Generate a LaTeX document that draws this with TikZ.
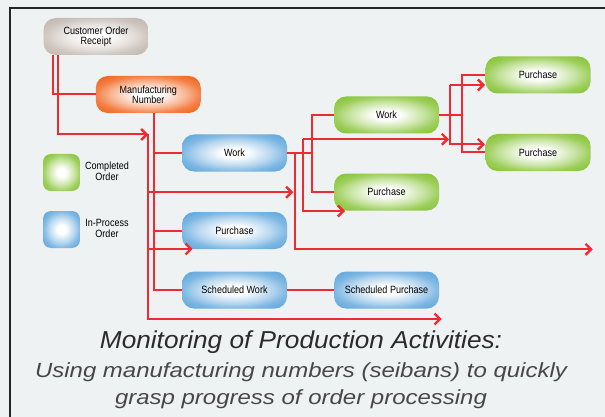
\documentclass[tikz,border=0pt]{standalone}
\usepackage{fontspec}
\usetikzlibrary{arrows.meta}
\newfontfamily\condfont[FakeStretch=0.86]{Liberation Sans}
\newfontfamily\titlefont[FakeStretch=1.07]{Liberation Sans}
\newfontfamily\subfont[FakeStretch=1.17]{Liberation Sans}
\definecolor{bgC}{HTML}{EEF2F3}
\definecolor{frameC}{HTML}{262626}
\definecolor{redC}{HTML}{EE2B33}
\definecolor{blueC}{HTML}{68ABDE}
\definecolor{greenC}{HTML}{8CC63F}
\definecolor{orangeC}{HTML}{F26A25}
\definecolor{beigeC}{HTML}{C5BBB3}
\definecolor{titleC}{HTML}{2B2B2B}
\definecolor{subC}{HTML}{474747}
\colorlet{blueM}{blueC!50!white}
\colorlet{greenM}{greenC!50!white}
\colorlet{orangeM}{orangeC!50!white}
\colorlet{beigeM}{beigeC!50!white}
\colorlet{blueE}{blueC!85!white}
\colorlet{greenE}{greenC!85!white}
\colorlet{orangeE}{orangeC!85!white}
\colorlet{beigeE}{beigeC!85!white}
\pgfdeclareradialshading{glowblue}{\pgfpoint{0bp}{0bp}}{color(0bp)=(white); color(6bp)=(white); color(18bp)=(blueM); color(25bp)=(blueE); color(31bp)=(blueC); color(50bp)=(blueC)}
\pgfdeclareradialshading{glowgreen}{\pgfpoint{0bp}{0bp}}{color(0bp)=(white); color(6bp)=(white); color(18bp)=(greenM); color(25bp)=(greenE); color(31bp)=(greenC); color(50bp)=(greenC)}
\pgfdeclareradialshading{gloworange}{\pgfpoint{0bp}{0bp}}{color(0bp)=(white); color(6bp)=(white); color(18bp)=(orangeM); color(25bp)=(orangeE); color(31bp)=(orangeC); color(50bp)=(orangeC)}
\pgfdeclareradialshading{glowbeige}{\pgfpoint{0bp}{0bp}}{color(0bp)=(white); color(6bp)=(white); color(18bp)=(beigeM); color(25bp)=(beigeE); color(31bp)=(beigeC); color(50bp)=(beigeC)}
\tikzset{
  box/.style={rounded corners=12pt, minimum width=105pt, minimum height=37pt, inner sep=1pt, align=center,
    font=\condfont\fontsize{10.5}{10}\selectfont, text=black},
  bluebox/.style={box, shading=glowblue},
  greenbox/.style={box, shading=glowgreen},
  orangebox/.style={box, shading=gloworange},
  beigebox/.style={box, shading=glowbeige},
  legendbox/.style={rounded corners=8pt, minimum width=37pt, minimum height=37pt, inner sep=0pt},
  legendtext/.style={align=center, font=\condfont\fontsize{10.5}{10.5}\selectfont, text=black},
  conn/.style={draw=redC, line width=2pt},
  arr/.style={conn, -{Straight Barb[length=5.5pt,width=11pt,line width=2.4pt]}}
}
\begin{document}
\begin{tikzpicture}[x=1pt,y=-1pt]
\useasboundingbox (0,0) rectangle (605,417);
\fill[bgC] (0,0) rectangle (605,417);
\draw[frameC, line width=2.2pt] (9.7,417) -- (9.7,8.3) -- (605,8.3);

% nodes
\node[beigebox] (cor) at (96,36.5) {Customer Order\\Receipt};
\node[orangebox] (mfg) at (148.3,94.5) {Manufacturing\\Number};
\node[bluebox] (wb) at (234.5,153) {Work};
\node[bluebox] (pb) at (234.5,230.5) {Purchase};
\node[bluebox] (swb) at (234.5,290) {Scheduled Work};
\node[bluebox] (spb) at (386.5,290) {Scheduled Purchase};
\node[greenbox] (wg) at (386.5,115) {Work};
\node[greenbox] (pg) at (386.5,192) {Purchase};
\node[greenbox] (pg1) at (538,75) {Purchase};
\node[greenbox] (pg2) at (538,152.5) {Purchase};
\node[legendbox, shading=glowgreen] (leg1) at (61.5,172.5) {};
\node[legendbox, shading=glowblue] (leg2) at (61.5,229.5) {};
\node[legendtext] (leg1t) at (107,171) {Completed\\Order};
\node[legendtext] (leg2t) at (107,228.5) {In-Process\\Order};

% coordinates
\coordinate (p1) at (53,95);
\coordinate (c2) at (57.7,0);
\coordinate (aTop) at (148.3,134.5);
\coordinate (aEnd) at (441.7,319);
\coordinate (t4) at (293.3,192.3);
\coordinate (t5) at (192.7,249);
\coordinate (bx) at (154,0);
\coordinate (gx) at (312,0);
\coordinate (hx) at (295,0);
\coordinate (t11) at (592.7,249.3);
\coordinate (kx) at (303.3,139.3);
\coordinate (t12a) at (449,139.3);
\coordinate (t12b) at (345,211);
\coordinate (mx) at (461.7,0);
\coordinate (nTop) at (450,85);
\coordinate (t15a) at (485,85);
\coordinate (t15b) at (485,144.3);

% connectors
\draw[conn] (cor.south -| p1) |- (mfg.west);
\draw[arr] (cor.south -| c2) |- (aTop);
\draw[arr] (aTop) |- (aEnd);
\draw[arr] (aTop |- t4) -- (t4);
\draw[arr] (aTop |- t5) -- (t5);
\draw[conn] (mfg.south -| bx) |- (swb.west);
\draw[conn] (wb.west -| bx) -- (wb.west);
\draw[conn] (pb.west -| bx) -- (pb.west);
\draw[conn] (wb.east) -- (wb.east -| gx);
\draw[conn] (wg.west) -| (gx |- pg.west) -- (pg.west);
\draw[arr] (wb.east -| hx) |- (t11);
\draw[arr] (kx) -- (t12a);
\draw[arr] (kx) |- (t12b);
\draw[conn] (wg.east) -- (wg.east -| mx);
\draw[conn] (pg1.west) -| (mx |- pg2.west) -- (pg2.west);
\draw[arr] (nTop) -- (t15a);
\draw[arr] (nTop) |- (t15b);
\draw[conn] (swb.east) -- (spb.west);

% title
\node[font=\titlefont\itshape\fontsize{24.5}{28}\selectfont, text=titleC, anchor=base, inner sep=0pt] (t1) at (301,348.3) {Monitoring of Production Activities:};
\node[font=\subfont\itshape\fontsize{20.5}{24}\selectfont, text=subC, anchor=base, inner sep=0pt] (t2) at (301,377.7) {Using manufacturing numbers (seibans) to quickly};
\node[font=\subfont\itshape\fontsize{20.5}{24}\selectfont, text=subC, anchor=base, inner sep=0pt] (t3) at (301,404) {grasp progress of order processing};
\end{tikzpicture}
\end{document}
